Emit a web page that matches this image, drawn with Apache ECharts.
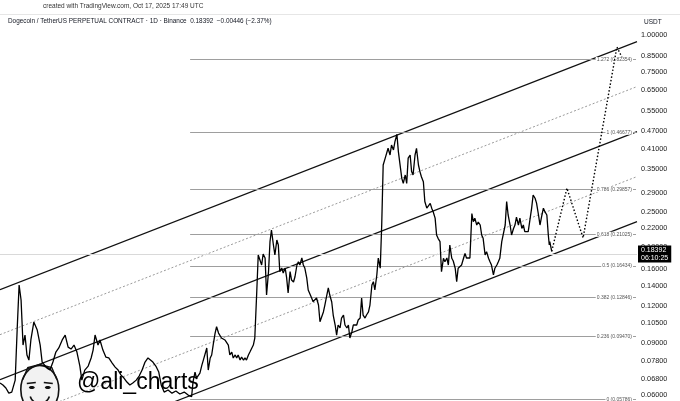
<!DOCTYPE html>
<html>
<head>
<meta charset="utf-8">
<script src="https://cdn.jsdelivr.net/npm/echarts@6/dist/echarts.min.js"></script>
<style>
html,body{margin:0;padding:0;background:#fff;}
#chart{width:680px;height:401px;}
</style>
</head>
<body>
<div id="chart"></div>
<script>
// ---- data ----
// daily closes sampled: [days since 2022-09-17, price USDT]
const closes = [[0,0.0657],[6,0.0647],[12,0.0632],[18,0.0607],[24,0.0612],[31,0.0672],[35,0.0994],[39,0.1414],[43,0.1257],[47,0.0884],[51,0.0956],[55,0.0818],[59,0.0786],[63,0.0920],[69,0.1058],[76,0.0994],[82,0.0884],[86,0.0774],[90,0.0786],[96,0.0738],[102,0.0727],[108,0.0774],[114,0.0837],[120,0.0864],[127,0.0920],[133,0.0956],[139,0.0870],[145,0.0857],[151,0.0884],[157,0.0837],[163,0.0750],[167,0.0672],[173,0.0727],[180,0.0750],[186,0.0799],[190,0.0850],[194,0.0956],[200,0.0884],[204,0.0920],[210,0.0850],[216,0.0805],[222,0.0799],[229,0.0768],[235,0.0744],[241,0.0727],[247,0.0699],[253,0.0683],[259,0.0662],[265,0.0647],[271,0.0657],[278,0.0672],[284,0.0694],[290,0.0727],[296,0.0774],[302,0.0799],[306,0.0805],[312,0.0774],[318,0.0750],[324,0.0716],[329,0.0647],[335,0.0612],[343,0.0622],[351,0.0607],[359,0.0617],[367,0.0603],[376,0.0612],[384,0.0598],[391,0.0590],[394,0.0664],[398,0.0715],[401,0.0683],[408,0.0710],[412,0.0756],[415,0.0786],[418,0.0774],[422,0.0864],[425,0.0727],[429,0.0799],[432,0.0818],[435,0.0884],[439,0.0971],[442,0.1020],[446,0.0971],[449,0.0956],[452,0.0934],[456,0.0941],[459,0.0920],[463,0.0906],[466,0.0884],[469,0.0818],[473,0.0837],[476,0.0799],[480,0.0818],[483,0.0799],[486,0.0818],[490,0.0786],[493,0.0805],[497,0.0786],[500,0.0799],[503,0.0786],[507,0.0818],[510,0.0837],[514,0.0864],[517,0.0884],[520,0.0934],[524,0.1341],[527,0.1788],[531,0.1802],[534,0.1653],[537,0.1802],[541,0.1746],[544,0.1307],[548,0.1569],[551,0.1984],[554,0.2173],[558,0.1933],[561,0.1788],[565,0.2010],[568,0.1933],[571,0.1569],[575,0.1615],[578,0.1553],[582,0.1615],[585,0.1494],[588,0.1328],[592,0.1569],[595,0.1470],[599,0.1447],[602,0.1508],[606,0.1653],[609,0.1696],[612,0.1653],[616,0.1746],[619,0.1653],[622,0.1615],[626,0.1494],[629,0.1360],[633,0.1339],[636,0.1277],[639,0.1241],[643,0.1228],[646,0.1277],[650,0.1209],[653,0.1061],[657,0.1061],[660,0.1145],[663,0.1209],[667,0.1307],[670,0.1382],[673,0.1307],[677,0.1238],[680,0.1118],[684,0.1034],[687,0.0956],[690,0.1034],[694,0.1010],[697,0.1092],[701,0.1118],[704,0.1034],[708,0.1010],[711,0.1034],[714,0.0934],[718,0.0979],[721,0.1034],[724,0.1018],[728,0.1034],[731,0.1075],[735,0.1092],[738,0.1277],[741,0.1118],[745,0.1092],[748,0.1118],[752,0.1145],[755,0.1209],[759,0.1414],[762,0.1451],[765,0.1360],[769,0.1529],[772,0.1746],[776,0.1612],[779,0.2260],[782,0.3613],[786,0.3804],[789,0.3757],[792,0.4118],[796,0.3907],[799,0.4225],[803,0.4063],[806,0.4336],[810,0.4590],[813,0.4012],[816,0.3961],[820,0.3254],[823,0.3129],[827,0.3341],[830,0.3129],[833,0.3812],[837,0.3907],[840,0.3431],[843,0.3341],[847,0.3907],[850,0.4118],[854,0.3613],[857,0.3431],[860,0.3297],[864,0.3170],[867,0.2716],[871,0.2578],[874,0.2541],[878,0.2676],[881,0.2578],[884,0.2508],[888,0.2384],[891,0.2090],[894,0.2036],[898,0.1984],[901,0.1569],[905,0.1742],[908,0.1696],[912,0.1746],[915,0.1653],[918,0.1933],[922,0.1742],[925,0.1706],[929,0.1612],[932,0.1451],[935,0.1612],[939,0.1590],[942,0.1653],[946,0.1742],[949,0.1810],[952,0.1746],[956,0.1719],[959,0.1746],[963,0.2472],[966,0.2320],[969,0.2384],[973,0.2260],[976,0.2313],[980,0.2260],[983,0.2090],[986,0.2036],[990,0.1788],[993,0.1835],[997,0.1742],[1000,0.1696],[1003,0.1653],[1007,0.1529],[1010,0.1612],[1014,0.1653],[1017,0.1696],[1020,0.1742],[1024,0.1984],[1027,0.1959],[1031,0.2260],[1034,0.2716],[1037,0.2444],[1041,0.2260],[1044,0.2090],[1048,0.2200],[1051,0.2260],[1054,0.2402],[1058,0.2260],[1061,0.2384],[1065,0.2200],[1068,0.2260],[1071,0.2147],[1075,0.2121],[1078,0.2147],[1082,0.2384],[1085,0.2578],[1088,0.2858],[1092,0.2786],[1095,0.2681],[1099,0.2444],[1102,0.2260],[1106,0.2444],[1109,0.2578],[1112,0.2508],[1116,0.2444],[1119,0.2090],[1121,0.1933],[1122,0.1984],[1126,0.18392]];

const lastPrice = 0.18392;
const countdown = '06:10:25';

// projected path (dotted)
const projDays   = [1126, 1157, 1190, 1259, 1269];
const projPrices = [0.18392, 0.3015, 0.2042, 0.909, 0.84];

// parallel channel: price at the left edge (day 0) and right edge (day 1300)
const channelNames = ['upper', 'upperMid', 'middle', 'lowerMid', 'lower'];
const channelStart = [0.1363, 0.09588, 0.06741, 0.04743, 0.03336];
const channelEnd   = [0.9482, 0.6670, 0.4692, 0.3300, 0.2321];
const channelDotted = [false, true, false, true, false];

// Fibonacci retracement (log)
const fibRatios = ['1.272', '1', '0.786', '0.618', '0.5', '0.382', '0.236', '0'];
const fibPrices = [0.82354, 0.46677, 0.29857, 0.21025, 0.16434, 0.12846, 0.09470, 0.05786];
const fibStartDay = 388, fibEndDay = 1298;

// price-axis tick labels
const yTicks = [0.06, 0.068, 0.078, 0.09, 0.105, 0.12, 0.14, 0.16, 0.19, 0.22, 0.25, 0.29, 0.35, 0.41, 0.47, 0.55, 0.65, 0.75, 0.85, 1.0];

// ---- chart ----
const DAY = 86400000;
const START = Date.UTC(2022, 8, 17);
const T = d => START + d * DAY;
const FONT = 'Liberation Sans';

const series = [];

series.push({
  name: 'DOGEUSDT', type: 'line', z: 6, showSymbol: false, silent: true,
  data: closes.map(([d, p]) => [T(d), p]),
  lineStyle: { color: '#000', width: 1.3 },
  markLine: {
    silent: true, symbol: ['none', 'none'], animation: false,
    lineStyle: { color: '#d9d9d9', width: 1, type: 'solid' },
    label: {
      position: 'end', distance: 1, formatter: lastPrice.toFixed(5) + '\n' + countdown,
      backgroundColor: '#000', color: '#fff', fontSize: 7, lineHeight: 8,
      padding: [1, 3, 0, 3], fontFamily: FONT
    },
    data: [{ yAxis: lastPrice }]
  }
});

channelNames.forEach((n, i) => {
  series.push({
    name: n, type: 'line', z: 4, showSymbol: false, silent: true,
    data: [[T(0), channelStart[i]], [T(1300), channelEnd[i]]],
    lineStyle: channelDotted[i]
      ? { color: '#9a9a9a', width: 1, type: [2, 2] }
      : { color: '#111', width: 1.2 }
  });
});

series.push({
  name: 'projection', type: 'line', z: 7, showSymbol: false, silent: true,
  data: projDays.map((d, i) => [T(d), projPrices[i]]),
  lineStyle: { color: '#000', width: 1.4, type: [1.5, 2] }
});

series.push({
  name: 'fib', type: 'line', z: 3, showSymbol: false, silent: true,
  data: [[T(fibStartDay), fibPrices[0]]],
  lineStyle: { opacity: 0 },
  markLine: {
    silent: true, symbol: ['none', 'none'], animation: false,
    lineStyle: { color: '#9e9e9e', width: 1, type: 'solid' },
    data: fibRatios.map((r, i) => [
      { coord: [T(fibStartDay), fibPrices[i]],
        label: { show: true, formatter: r + ' (' + fibPrices[i].toFixed(5) + ')' } },
      { coord: [T(fibEndDay), fibPrices[i]] }
    ]),
    label: {
      position: 'insideEnd', distance: 3, color: '#555', fontSize: 5,
      backgroundColor: '#fff', padding: [0, 1], fontFamily: FONT
    }
  }
});

const face = {
  type: 'group', left: 20, top: 362, silent: true,
  children: [
    { type: 'ellipse', shape: { cx: 22, cy: 28, rx: 19, ry: 24 }, style: { fill: '#f2f2f2', stroke: '#111', lineWidth: 1.6 } },
    { type: 'polyline', shape: { points: [[5, 18], [10, 6], [22, 3], [34, 6], [39, 18]] }, style: { fill: 'none', stroke: '#111', lineWidth: 1.4 } },
    { type: 'line', shape: { x1: 9, y1: 22, x2: 18, y2: 21 }, style: { stroke: '#111', lineWidth: 1.6 } },
    { type: 'line', shape: { x1: 26, y1: 21, x2: 35, y2: 22 }, style: { stroke: '#111', lineWidth: 1.6 } },
    { type: 'ellipse', shape: { cx: 14, cy: 26, rx: 3, ry: 1.5 }, style: { fill: '#111' } },
    { type: 'ellipse', shape: { cx: 30, cy: 26, rx: 3, ry: 1.5 }, style: { fill: '#111' } },
    { type: 'arc', shape: { cx: 22, cy: 32, r: 10, startAngle: 0.3, endAngle: Math.PI - 0.3 }, style: { stroke: '#111', lineWidth: 1.6, fill: 'none' } }
  ]
};

const option = {
  animation: false,
  backgroundColor: '#fff',
  grid: { left: 0, top: 30, width: 637, bottom: 0, containLabel: false },
  xAxis: {
    type: 'time', min: T(0), max: T(1300), show: false
  },
  yAxis: {
    type: 'log', logBase: 10, position: 'right', min: 0.05708, max: 1.0382,
    axisLine: { show: false }, axisTick: { show: false }, splitLine: { show: false },
    axisLabel: {
      customValues: yTicks, margin: 4, color: '#222', fontSize: 7.3, fontFamily: FONT,
      formatter: v => Number(v).toFixed(5)
    }
  },
  series: series,
  graphic: [
    { type: 'text', left: 43, top: 3, silent: true,
      style: { text: 'created with TradingView.com, Oct 17, 2025 17:49 UTC', fill: '#333', font: '6.5px "Liberation Sans"' } },
    { type: 'line', silent: true, shape: { x1: 0, y1: 14.5, x2: 680, y2: 14.5 }, style: { stroke: '#e6e6e6', lineWidth: 1 } },
    { type: 'text', left: 8, top: 18.5, silent: true,
      style: { text: 'Dogecoin / TetherUS PERPETUAL CONTRACT · 1D · Binance  0.18392  −0.00446 (−2.37%)', fill: '#131722', font: '6.4px "Liberation Sans"' } },
    { type: 'text', left: 644, top: 18.5, silent: true,
      style: { text: 'USDT', fill: '#131722', font: '6.5px "Liberation Sans"' } },
    face,
    { type: 'text', left: 77, top: 371, silent: true, z: 100,
      style: { text: '@ali_charts', fill: '#000', font: '23px "Liberation Sans"' } }
  ]
};

const chart = echarts.init(document.getElementById('chart'), null, { renderer: 'canvas' });
chart.setOption(option);
</script>
</body>
</html>
